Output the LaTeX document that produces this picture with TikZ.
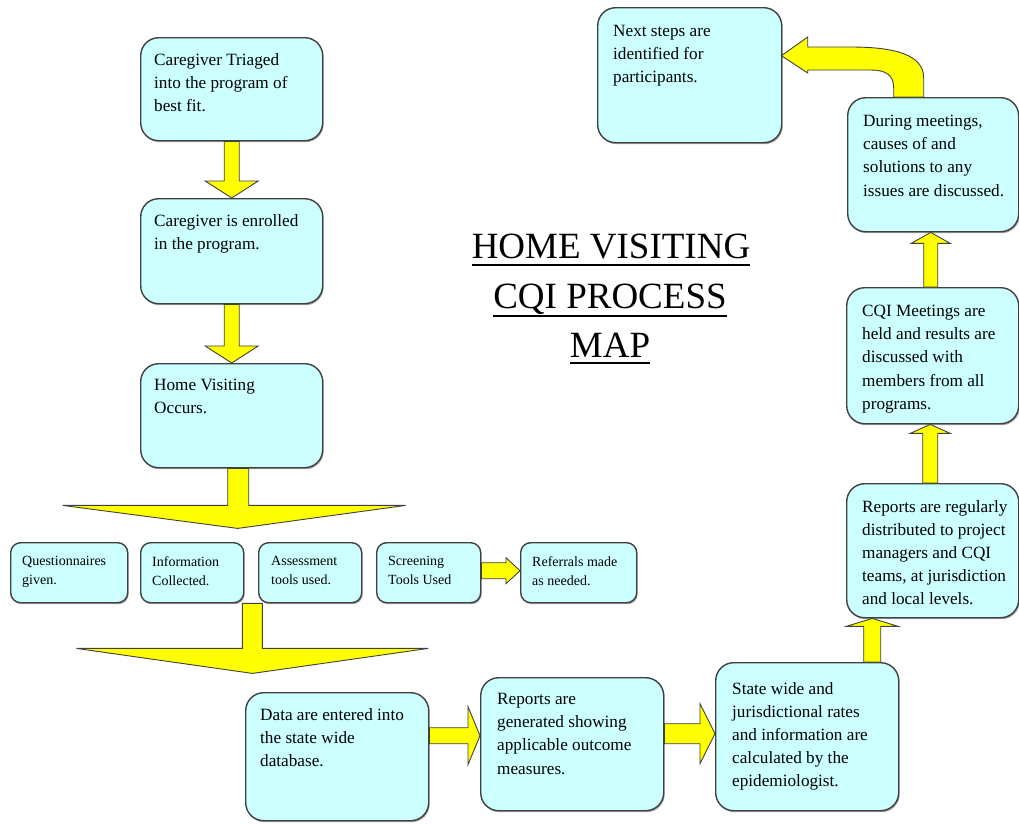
\documentclass[tikz,border=0pt]{standalone}
\usepackage{fontspec}
\setmainfont{Liberation Serif}
\usetikzlibrary{calc,shadows}
\definecolor{boxfill}{HTML}{CCFFFF}
\definecolor{boxline}{HTML}{404040}
\definecolor{arrowfill}{HTML}{FFFF00}
\tikzset{
 bigbox/.style={draw=boxline, line width=1.4pt, fill=boxfill, rounded corners=18pt, inner sep=0pt, anchor=north west,
   drop shadow={shadow xshift=1pt, shadow yshift=-1.5pt, opacity=0.35, fill=black}},
 smallbox/.style={bigbox, rounded corners=10pt},
 txt/.style={inner sep=0pt, anchor=north west, align=left, font=\fontsize{17.2}{23.2}\selectfont},
 smalltxt/.style={txt, font=\fontsize{14}{19}\selectfont},
 yarrow/.style={draw=boxline, line width=0.9pt, fill=arrowfill, line join=miter},
 titletxt/.style={inner sep=0pt, anchor=base, font=\fontsize{37}{50}\selectfont},
 uline/.style={line width=1.6pt},
}
% vertical block arrow: #1 from, #2 to, #3 x offset, #4 shaft half, #5 head half, #6 head offset
\newcommand{\vblk}[6]{%
 \path[yarrow] ($(#1)+({#3-#4},0)$) -- ($(#1 |- #2)+({#3-#4},#6)$) -- ($(#1 |- #2)+({#3-#5},#6)$)
   -- ($(#1 |- #2)+(#3,0)$) -- ($(#1 |- #2)+({#3+#5},#6)$) -- ($(#1 |- #2)+({#3+#4},#6)$)
   -- ($(#1)+({#3+#4},0)$) -- cycle;}
% horizontal block arrow
\newcommand{\hblk}[6]{%
 \path[yarrow] ($(#1)+(0,{#3-#4})$) -- ($(#1 -| #2)+(#6,{#3-#4})$) -- ($(#1 -| #2)+(#6,{#3-#5})$)
   -- ($(#1 -| #2)+(0,#3)$) -- ($(#1 -| #2)+(#6,{#3+#5})$) -- ($(#1 -| #2)+(#6,{#3+#4})$)
   -- ($(#1)+(0,{#3+#4})$) -- cycle;}
\begin{document}
\begin{tikzpicture}[x=1pt,y=-1pt]
\fill[white] (0,0) rectangle (1019,823);
\useasboundingbox (0,0) rectangle (1019,823);

% boxes
\node[bigbox, minimum width=182pt, minimum height=103pt] (b1) at (140,37) {};
\node[bigbox, minimum width=182pt, minimum height=105pt] (b2) at (140,198) {};
\node[bigbox, minimum width=182pt, minimum height=104pt] (b3) at (140,363) {};
\node[smallbox, minimum width=117pt, minimum height=60pt] (s1) at (10,542) {};
\node[smallbox, minimum width=103pt, minimum height=60pt] (s2) at (140,542) {};
\node[smallbox, minimum width=103pt, minimum height=60pt] (s3) at (258,542) {};
\node[smallbox, minimum width=104pt, minimum height=60pt] (s4) at (376,542) {};
\node[smallbox, minimum width=116pt, minimum height=60pt] (s5) at (520,542) {};
\node[bigbox, minimum width=183pt, minimum height=128pt] (d1) at (245,692) {};
\node[bigbox, minimum width=183pt, minimum height=133pt] (d2) at (480,677) {};
\node[bigbox, minimum width=183pt, minimum height=148pt] (d3) at (715,662) {};
\node[bigbox, minimum width=172pt, minimum height=134pt] (r1) at (846,483) {};
\node[bigbox, minimum width=172pt, minimum height=136pt] (r2) at (846,287) {};
\node[bigbox, minimum width=171pt, minimum height=134pt] (r3) at (847,97) {};
\node[bigbox, minimum width=184pt, minimum height=135pt] (r4) at (597,7) {};

% texts
\node[txt] (b1t) at ($(b1.north west)+(14,16)$) {Caregiver Triaged\\into the program of\\best fit.};
\node[txt] (b2t) at ($(b2.north west)+(14,16)$) {Caregiver is enrolled\\in the program.};
\node[txt] (b3t) at ($(b3.north west)+(14,16)$) {Home Visiting\\Occurs.};
\node[smalltxt] (s1t) at ($(s1.north west)+(12,14)$) {Questionnaires\\given.};
\node[smalltxt] (s2t) at ($(s2.north west)+(12,14)$) {Information\\Collected.};
\node[smalltxt] (s3t) at ($(s3.north west)+(13,14)$) {Assessment\\tools used.};
\node[smalltxt] (s4t) at ($(s4.north west)+(12,14)$) {Screening\\Tools Used};
\node[smalltxt] (s5t) at ($(s5.north west)+(12,14)$) {Referrals made\\as needed.};
\node[txt] (d1t) at ($(d1.north west)+(15,16)$) {Data are entered into\\the state wide\\database.};
\node[txt] (d2t) at ($(d2.north west)+(17,16)$) {Reports are\\generated showing\\applicable outcome\\measures.};
\node[txt] (d3t) at ($(d3.north west)+(17,20)$) {State wide and\\jurisdictional rates\\and information are\\calculated by the\\epidemiologist.};
\node[txt] (r1t) at ($(r1.north west)+(16,17)$) {Reports are regularly\\distributed to project\\managers and CQI\\teams, at jurisdiction\\and local levels.};
\node[txt] (r2t) at ($(r2.north west)+(16,18)$) {CQI Meetings are\\held and results are\\discussed with\\members from all\\programs.};
\node[txt] (r3t) at ($(r3.north west)+(16,18)$) {During meetings,\\causes of and\\solutions to any\\issues are discussed.};
\node[txt] (r4t) at ($(r4.north west)+(16,18)$) {Next steps are\\identified for\\participants.};

% title
\node[titletxt] (t1) at (611,258) {HOME VISITING};
\node[titletxt] (t2) at (610,308) {CQI PROCESS};
\node[titletxt] (t3) at (610,357) {MAP};
\draw[uline] ($(t1.base west)+(0,7)$) -- ($(t1.base east)+(0,7)$);
\draw[uline] ($(t2.base west)+(0,8)$) -- ($(t2.base east)+(0,8)$);
\draw[uline] ($(t3.base west)+(0,6)$) -- ($(t3.base east)+(0,6)$);

% arrows
\vblk{b1.south}{b2.north}{0}{7.5}{26.5}{-17}
\vblk{b2.south}{b3.north}{0}{7.5}{26.5}{-17}
\vblk{d3.north}{r1.south}{65}{8.5}{26}{8}
\vblk{r1.north}{r2.south}{-2.5}{7.5}{20}{9}
\vblk{r2.north}{r3.south}{-2}{7}{19.5}{11}
\hblk{s4.east}{s5.west}{-2}{8}{13}{-14}
\hblk{d1.east}{d2.west}{-21}{8}{29}{-12}
\hblk{d2.east}{d3.west}{-10.5}{10}{30}{-15}

% fan arrows
\path[yarrow] ($(b3.south)+(-4,0)$) -- ($(b3.south)+(-4,37)$) -- ($(b3.south)+(-169,37)$)
  -- ($(b3.south)+(6,60)$) -- ($(b3.south)+(174,37)$) -- ($(b3.south)+(17,37)$)
  -- ($(b3.south)+(17,0)$) -- cycle;
\path[yarrow] ($(s2.south east)+(-2,0)$) -- ($(s2.south east)+(-2,45)$) -- ($(s2.south east)+(-168,45)$)
  -- ($(s2.south east)+(8,70)$) -- ($(s2.south east)+(184,45)$) -- ($(s2.south east)+(18,45)$)
  -- ($(s2.south east)+(18,0)$) -- cycle;

% curved arrow
\path[yarrow] ($(r3.north)+(-9.5,0)$) -- ($(r3.north)+(-9.5,-19)$)
  .. controls ($(r3.north)+(-9.5,-42)$) and ($(r3.north)+(-37.5,-50)$) .. ($(r3.north)+(-82.5,-50)$)
  -- ($(r3.north)+(-125.5,-50)$) -- ($(r3.north)+(-125.5,-60)$)
  -- ($(r4.east)+(-1,-19.5)$)
  -- ($(r3.north)+(-125.5,-24)$) -- ($(r3.north)+(-125.5,-27)$) -- ($(r3.north)+(-62.5,-27)$)
  .. controls ($(r3.north)+(-47.5,-27)$) and ($(r3.north)+(-39.5,-22)$) .. ($(r3.north)+(-39.5,-9)$)
  -- ($(r3.north)+(-39.5,0)$) -- cycle;
\end{tikzpicture}
\end{document}
